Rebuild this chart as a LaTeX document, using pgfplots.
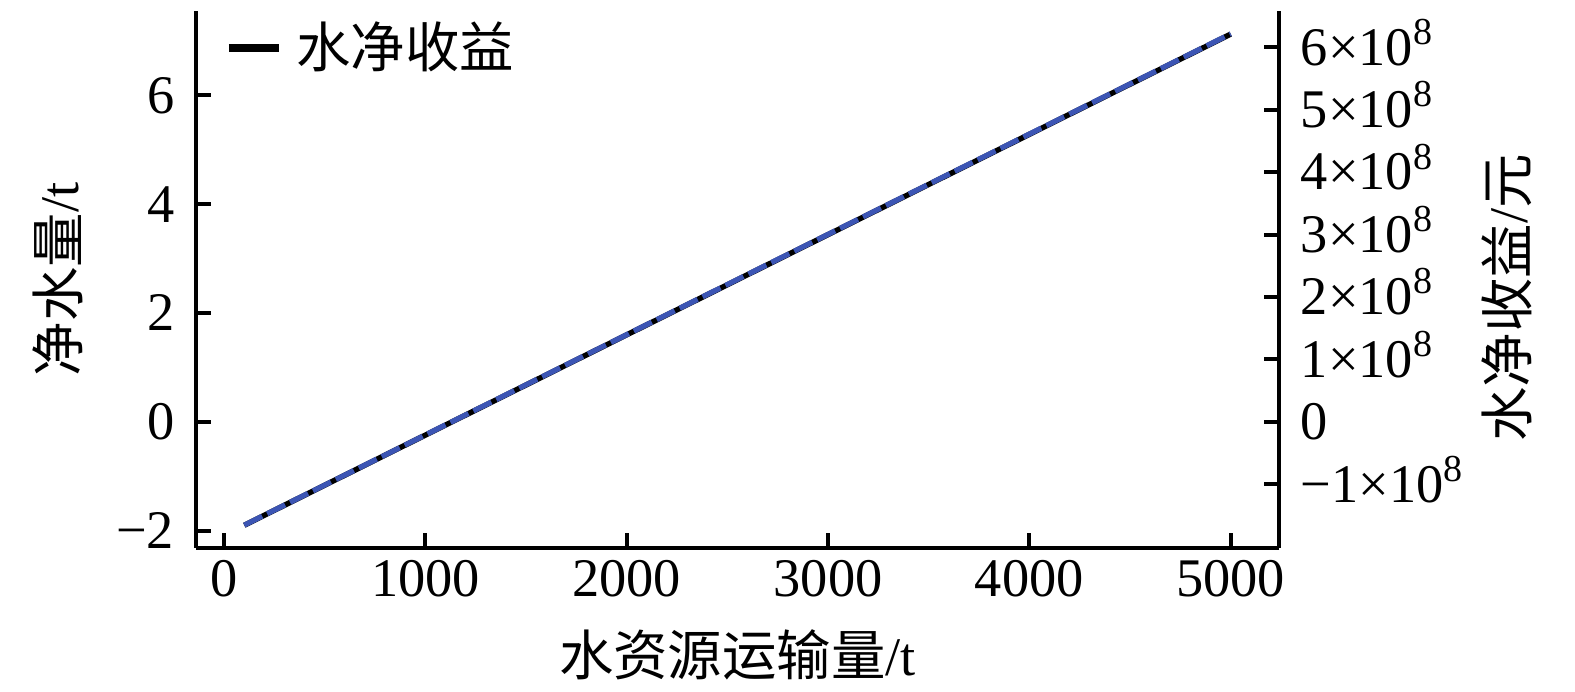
\documentclass[border=0pt]{standalone}
\usepackage{fontspec}
\setmainfont{Liberation Serif}
\newfontfamily\cjk{Noto Sans CJK SC}
\usepackage{pgfplots}
\pgfplotsset{compat=1.18}
\newcommand\fs{\fontsize{13.6}{16}\selectfont}
\definecolor{lineblue}{RGB}{60,85,180}
\begin{document}
\begin{tikzpicture}
\useasboundingbox (0,0) rectangle (393.75pt,173pt);
% right axis (black, net profit)
\begin{axis}[
  at={(49pt,36pt)}, anchor=south west,
  scale only axis, width=270.75pt, height=134.25pt,
  xmin=-140, xmax=5240,
  ymin=-2.02e8, ymax=6.58e8,
  axis x line=none,
  axis y line*=right,
  axis line style={-, line width=1pt},
  tick style={line width=1pt, black},
  tick align=inside, major tick length=3.75pt,
  ytick={-1e8,0,1e8,2e8,3e8,4e8,5e8,6e8},
  yticklabels={−1×10\smash{\textsuperscript{8}},0,1×10\smash{\textsuperscript{8}},2×10\smash{\textsuperscript{8}},3×10\smash{\textsuperscript{8}},4×10\smash{\textsuperscript{8}},5×10\smash{\textsuperscript{8}},6×10\smash{\textsuperscript{8}}},
  yticklabel style={font=\fs, inner sep=0pt, anchor=west, xshift=5.25pt},
  scaled y ticks=false,
  ylabel={{\cjk 水净收益}/{\cjk 元}},
  every axis y label/.style={at={(axis description cs:1.2105,0.4655)}, anchor=center, rotate=90, font=\fs},
  clip=false,
]
\addplot[black, line width=1.35pt] coordinates {
(100,-165600000) (1000,-21100000) (2000,139400000) (3000,299900000) (4000,460500000) (5000,621000000)
};
\end{axis}
% left axis (blue, net water)
\begin{axis}[
  at={(49pt,36pt)}, anchor=south west,
  scale only axis, width=270.75pt, height=134.25pt,
  xmin=-140, xmax=5240,
  ymin=-2.32, ymax=7.55,
  axis x line*=bottom,
  axis y line*=left,
  axis line style={-, line width=1pt},
  tick style={line width=1pt, black},
  tick align=inside, major tick length=3.75pt,
  xtick={0,1000,2000,3000,4000,5000},
  xticklabels={0,1000,2000,3000,4000,5000},
  ytick={-2,0,2,4,6},
  yticklabels={−2,0,2,4,6},
  xticklabel style={font=\fs, inner sep=0pt, anchor=north, yshift=-3pt},
  yticklabel style={font=\fs, inner sep=0pt, anchor=east, xshift=-5.25pt},
  xlabel={{\cjk 水资源运输量}/t},
  ylabel={{\cjk 净水量}/t},
  every axis x label/.style={at={(axis description cs:0.5,-0.1993)}, anchor=center, font=\fs},
  every axis y label/.style={at={(axis description cs:-0.1274,0.5)}, anchor=center, rotate=90, font=\fs},
  legend style={draw=none, fill=none, at={(axis description cs:0.026,0.931)}, anchor=west, inner sep=0pt, font=\fs,
    nodes={inner sep=0pt}, /tikz/every odd column/.append style={column sep=3.5pt}},
  legend cell align=left,
  legend image code/.code={\draw[black, line width=1.9pt] (0pt,0pt) -- (12.5pt,0pt);},
  clip=false,
]
\addplot[lineblue, line width=1.3pt, dash pattern=on 5pt off 1.4pt, forget plot] coordinates {
(100,-1.90) (1000,-0.241) (2000,1.602) (3000,3.445) (4000,5.288) (5000,7.13)
};
\addlegendimage{black}
\addlegendentry{{\cjk 水净收益}}
\end{axis}
\end{tikzpicture}
\end{document}
